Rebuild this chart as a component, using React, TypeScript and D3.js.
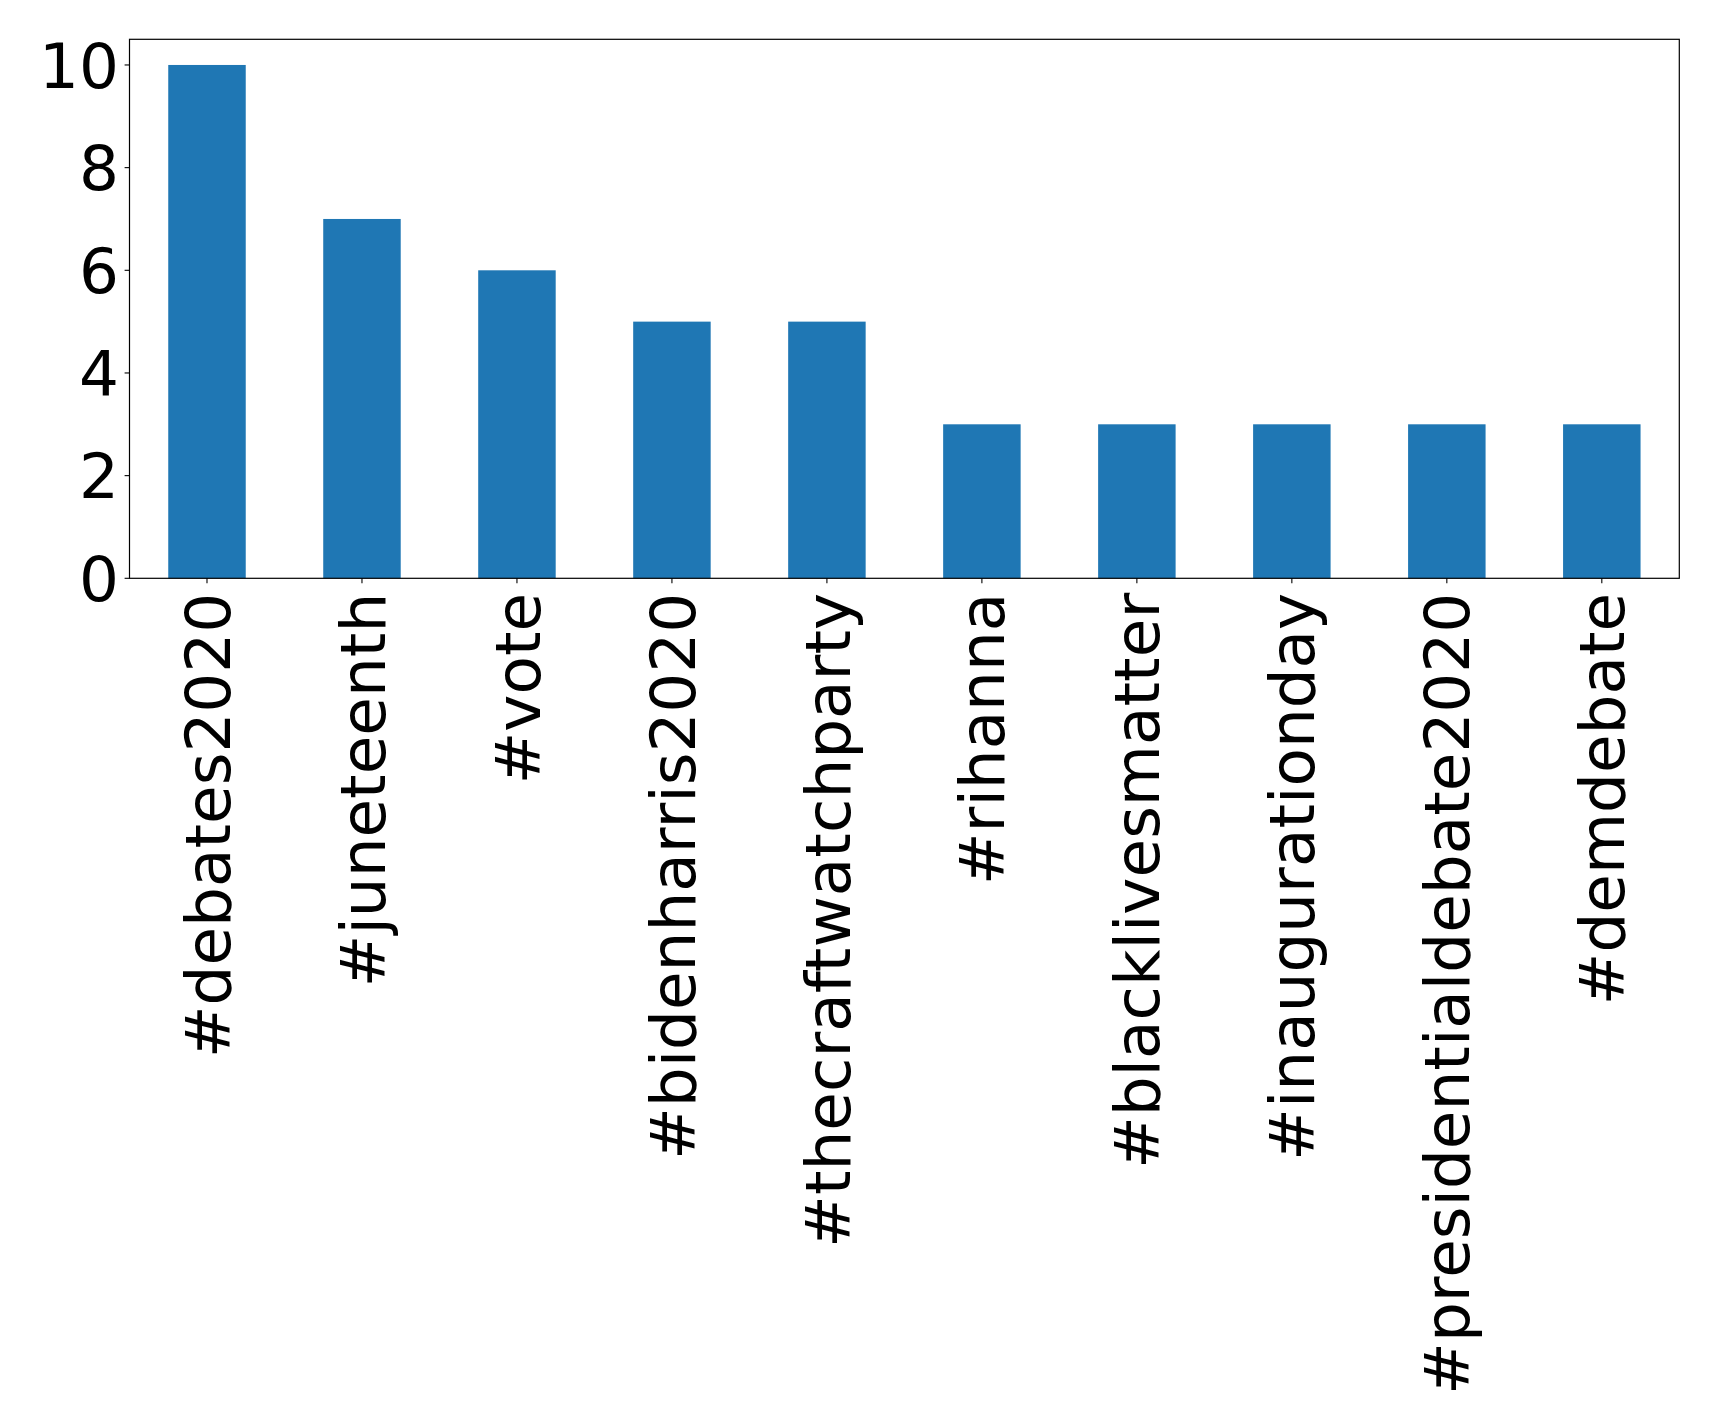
import React from "react";
import * as d3 from "d3";

const categories = ["#debates2020", "#juneteenth", "#vote", "#bidenharris2020", "#thecraftwatchparty", "#rihanna", "#blacklivesmatter", "#inaugurationday", "#presidentialdebate2020", "#demdebate"];
const values = [10, 7, 6, 5, 5, 3, 3, 3, 3, 3];
const yTicks = [0, 2, 4, 6, 8, 10];

export default function App() {
  const W = 1719, H = 1426;
  const left = 129.5, right = 1679.3, top = 39.3, bottom = 578.3;
  const x = d3.scaleBand<string>().domain(categories).range([left, right]).paddingInner(0.5).paddingOuter(0.25);
  const y = d3.scaleLinear().domain([0, 10.5]).range([bottom, top]);
  const fs = 62.8;
  const font = "DejaVu Sans";
  return (
    <svg width={W} height={H} style={{ position: "absolute", left: 0, top: 0, background: "#fff" }}>
      <rect x={0} y={0} width={W} height={H} fill="#fff" />
      {categories.map((c, i) => (
        <rect key={c} x={x(c)} y={y(values[i])} width={x.bandwidth()} height={y(0) - y(values[i])} fill="#1f77b4" />
      ))}
      <rect x={left} y={top} width={right - left} height={bottom - top} fill="none" stroke="#000" strokeWidth={1.2} />
      {yTicks.map((t) => (
        <g key={t}>
          <line x1={left - 4.9} x2={left} y1={y(t)} y2={y(t)} stroke="#000" strokeWidth={1.1} />
          <text x={left - 10.5} y={y(t)} dy="0.36em" textAnchor="end" fontFamily={font} fontSize={fs} fill="#000">{t}</text>
        </g>
      ))}
      {categories.map((c) => {
        const cx = (x(c) as number) + x.bandwidth() / 2;
        return (
          <g key={c}>
            <line x1={cx} x2={cx} y1={bottom} y2={bottom + 4.9} stroke="#000" strokeWidth={1.1} />
            <text transform={`translate(${cx},${bottom + 14.5}) rotate(-90)`} textAnchor="end" dy="0.36em" fontFamily={font} fontSize={fs} fill="#000">{c}</text>
          </g>
        );
      })}
    </svg>
  );
}
